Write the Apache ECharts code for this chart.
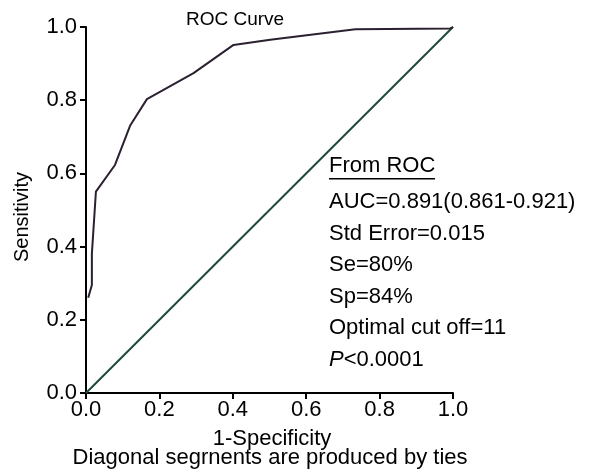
<!DOCTYPE html>
<html>
<head>
<meta charset="utf-8">
<script src="https://cdn.jsdelivr.net/npm/echarts@6/dist/echarts.min.js"></script>
<style>
  html, body { margin: 0; padding: 0; background: #fff; }
  #chart { width: 591px; height: 473px; }
</style>
</head>
<body>
<div id="chart"></div>
<script>
  // ROC curve points
  var fpr = [0.006, 0.016, 0.016, 0.027, 0.079, 0.12, 0.166, 0.293, 0.402, 0.502, 0.734, 0.993, 1.0];
  var tpr = [0.26, 0.295, 0.38, 0.55, 0.623, 0.73, 0.803, 0.874, 0.951, 0.965, 0.994, 0.996, 1.0];
  var refX = [0, 1];
  var refY = [0, 1];
  var notes = ['AUC=0.891(0.861-0.921)', 'Std Error=0.015', 'Se=80%', 'Sp=84%', 'Optimal cut off=11'];

  var font = 'Liberation Sans, Arial, sans-serif';
  var chart = echarts.init(document.getElementById('chart'));

  var rocData = fpr.map(function (x, i) { return [x, tpr[i]]; });
  var refData = refX.map(function (x, i) { return [x, refY[i]]; });

  var axisCommon = {
    type: 'value',
    min: 0,
    max: 1,
    interval: 0.2,
    splitLine: { show: false },
    axisLine: { lineStyle: { color: '#000', width: 2 } },
    axisTick: { length: 6, lineStyle: { color: '#000', width: 2 } },
    axisLabel: {
      color: '#000', fontSize: 22, fontFamily: font, margin: 9,
      formatter: function (v) { return v.toFixed(1); }
    }
  };

  function txt(str, x, y, size, align) {
    return {
      type: 'text',
      style: {
        x: x, y: y, text: str, fill: '#000',
        font: size + 'px ' + font,
        textAlign: align || 'left', textVerticalAlign: 'middle'
      }
    };
  }

  var graphics = [
    txt('ROC Curve', 235, 20, 19, 'center'),
    txt('From ROC', 329, 166, 22),
    { type: 'rect', shape: { x: 329, y: 178, width: 106, height: 1.5 }, style: { fill: '#000' } }
  ];
  notes.forEach(function (t, i) {
    graphics.push(txt(t, 329, 202 + i * 31.6, 22));
  });
  var pLine = txt('{i|P}<0.0001', 329, 202 + notes.length * 31.6, 22);
  pLine.style.rich = { i: { fontStyle: 'italic', fontSize: 22, fontFamily: font, fill: '#000' } };
  graphics.push(pLine);
  graphics.push(txt('1-Specificity', 272, 439, 22, 'center'));
  graphics.push(txt('Diagonal segrnents are produced by ties', 270, 458, 22, 'center'));
  // y axis name, rotated
  var yName = txt('Sensitivity', 0, 0, 20, 'center');
  yName.x = 22;
  yName.y = 217;
  yName.rotation = Math.PI / 2;
  graphics.push(yName);

  chart.setOption({
    animation: false,
    grid: { left: 86, right: 138, top: 27, bottom: 80 },
    xAxis: Object.assign({}, axisCommon, { axisLabel: Object.assign({}, axisCommon.axisLabel, { margin: 6 }) }),
    yAxis: Object.assign({}, axisCommon),
    graphic: graphics,
    series: [
      {
        type: 'line',
        data: refData,
        showSymbol: false,
        lineStyle: { color: '#1f4a38', width: 2 }
      },
      {
        type: 'line',
        data: rocData,
        showSymbol: false,
        lineStyle: { color: '#2b2030', width: 2 }
      }
    ]
  });
</script>
</body>
</html>
